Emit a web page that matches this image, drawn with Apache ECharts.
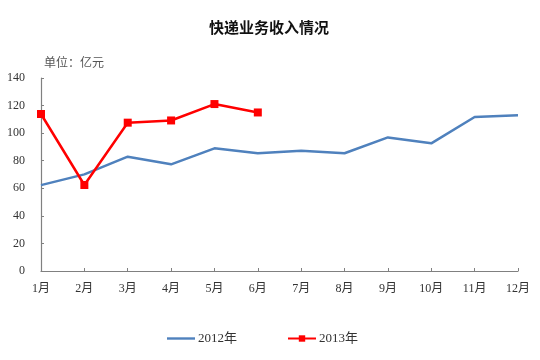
<!DOCTYPE html>
<html><head><meta charset="utf-8">
<script src="https://cdn.jsdelivr.net/npm/echarts@6/dist/echarts.min.js"></script>
<style>html,body{margin:0;padding:0;background:#fff}#c{width:540px;height:360px}</style>
</head><body><div id="c"></div>
<script>
const categories = ['1月','2月','3月','4月','5月','6月','7月','8月','9月','10月','11月','12月'];
const series2012 = [62.3, 70.1, 82.9, 77.4, 89.0, 85.4, 87.2, 85.4, 96.9, 92.6, 111.7, 112.9];
const series2013 = [113.9, 62.4, 107.6, 109.2, 121.1, 115.0];
const yTicks = [0, 20, 40, 60, 80, 100, 120, 140];
const FONT = '"Liberation Serif", "Noto Sans CJK SC", serif';
const chart = echarts.init(document.getElementById('c'));
chart.setOption({
  animation: false,
  backgroundColor: '#fff',
  title: [{
    text: '快递业务收入情况', left: 264, textAlign: 'center', top: 15,
    textStyle: {fontFamily: '"Noto Sans CJK SC", sans-serif', fontSize: 15, fontWeight: 'bold', color: '#111'}
  }, {
    text: '单位：亿元', left: 39, top: 51,
    textStyle: {fontFamily: '"Noto Sans CJK SC", sans-serif', fontSize: 12, fontWeight: 'normal', color: '#555'}
  }],
  legend: {
    top: 327, left: 162, itemGap: 50, itemWidth: 28, itemHeight: 8,
    textStyle: {fontFamily: FONT, fontSize: 13, color: '#333', padding: [0, 0, 0, -2]},
    data: [
      {name: '2012年', icon: 'path://M0,0L0,0M0,2.8H28V5.2H0ZM28,8L28,8'},
      {name: '2013年'}
    ]
  },
  grid: {left: 41, right: 22, top: 78, bottom: 89},
  xAxis: {
    type: 'category', data: categories, boundaryGap: false,
    axisLine: {lineStyle: {color: '#808080', width: 1.2}},
    axisTick: {inside: true, length: 3, lineStyle: {color: '#808080'}},
    axisLabel: {fontFamily: FONT, fontSize: 12, color: '#333', margin: 12}
  },
  yAxis: {
    type: 'value', min: 0, max: 140, interval: 20,
    axisLine: {show: true, lineStyle: {color: '#808080', width: 1.2}},
    axisTick: {show: true, inside: true, length: 3, lineStyle: {color: '#808080'}},
    splitLine: {show: false},
    axisLabel: {fontFamily: FONT, fontSize: 12, color: '#333', margin: 16,
      formatter: v => yTicks.includes(v) ? String(v) : ''}
  },
  series: [{
    name: '2012年', type: 'line', data: series2012, symbol: 'none',
    lineStyle: {color: '#4F81BD', width: 2.5}, itemStyle: {color: '#4F81BD'}
  }, {
    name: '2013年', type: 'line', data: series2013, symbol: 'rect', symbolSize: 8,
    lineStyle: {color: '#FF0000', width: 2.5}, itemStyle: {color: '#FF0000'}
  }]
});
</script></body></html>
